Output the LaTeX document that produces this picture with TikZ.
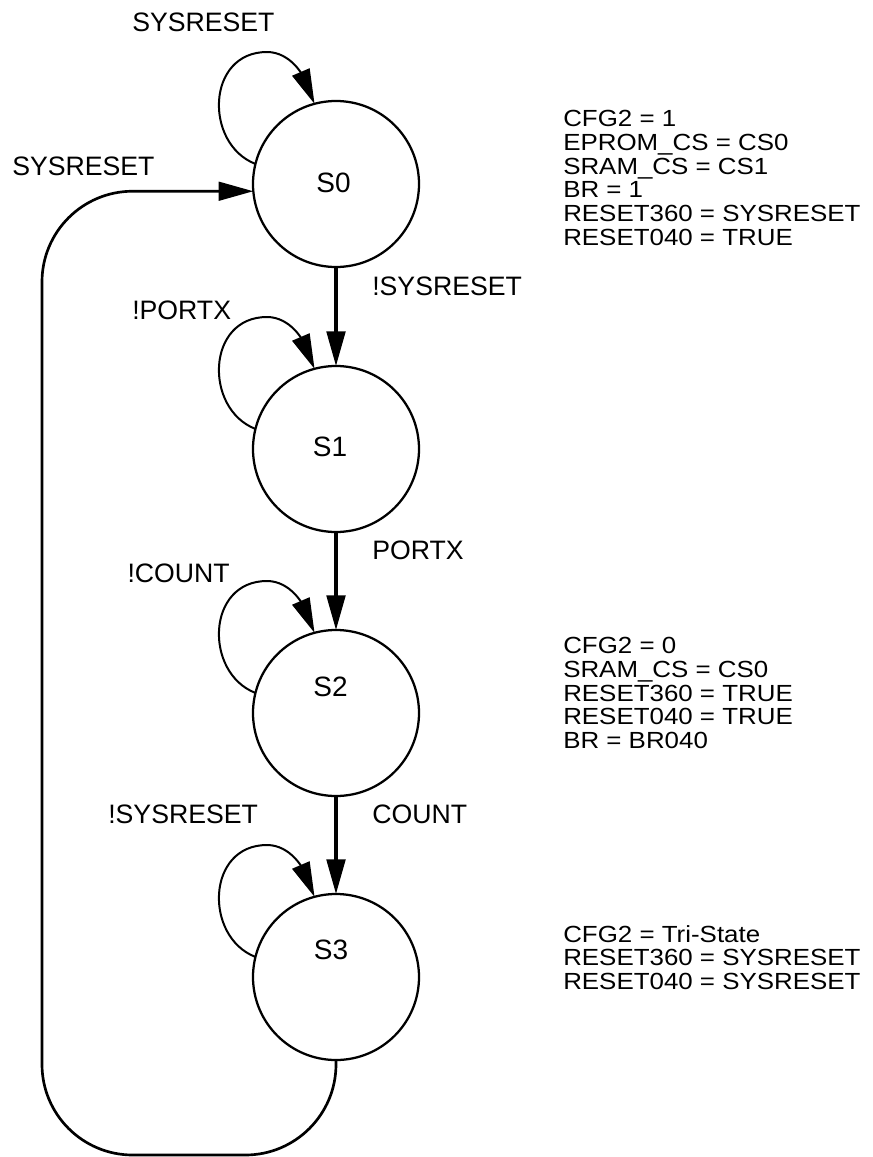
\documentclass[tikz,border=0pt]{standalone}
\usepackage{fontspec}
\setmainfont{Liberation Sans}
\usetikzlibrary{arrows.meta,calc}
\newcommand\selfloop[1]{%
  \draw[loopline] (#1.166) .. controls ($(#1)+(-132,-40)$) and ($(#1)+(-130,-132)$) .. ($(#1)+(-69,-132)$)
    .. controls ($(#1)+(-45,-132)$) and ($(#1)+(-33,-107)$) .. (#1.105);}
\begin{document}
\begin{tikzpicture}[x=0.75pt,y=-0.75pt,
  state/.style={draw, circle, line width=1.7pt, minimum size=124.5pt, inner sep=0pt, outer sep=0pt},
  stname/.style={inner sep=0pt, font=\fontsize{21}{25}\selectfont},
  lbl/.style={inner sep=0pt, font=\fontsize{20}{24}\selectfont},
  outtxt/.style={inner sep=0pt, anchor=north west, font=\fontsize{17.5}{17.75}\selectfont},
  tipped/.style={-{Triangle[length=26pt,width=14pt]}},
  trans/.style={tipped, line width=2.4pt},
  loopline/.style={tipped, line width=1.5pt},
  back/.style={tipped, line width=2pt, rounded corners=68pt}]
\useasboundingbox (0,0) rectangle (872,1157);

% states
\node[state] (S0) at (336,184) {};
\node[state] (S1) at (336,449) {};
\node[state] (S2) at (336,713) {};
\node[state] (S3) at (336,977) {};
\node[stname] (S0t) at (333.5,183) {S0};
\node[stname] (S1t) at (330,447) {S1};
\node[stname] (S2t) at (330.5,687) {S2};
\node[stname] (S3t) at (331,950) {S3};

% transitions
\draw[trans] (S0.south) -- (S1.north);
\draw[trans] (S1.south) -- (S2.north);
\draw[trans] (S2.south) -- (S3.north);

% self loops
\selfloop{S0}
\selfloop{S1}
\selfloop{S2}
\selfloop{S3}

% return path
\coordinate (B) at (42,1155);
\draw[back] (S3.south) -- (S3.south |- B) -- (B) -- (B |- S0.185) -- (S0.185);

% labels
\node[lbl, anchor=west] (l0) at (132,22) {SYSRESET};
\node[lbl, anchor=west] (lback) at (12,166) {SYSRESET};
\node[lbl, anchor=west] (l01) at (372,286) {!SYSRESET};
\node[lbl, anchor=west] (l1) at (132,310) {!PORTX};
\node[lbl, anchor=west] (l12) at (372,550) {PORTX};
\node[lbl, anchor=east] (l2) at (230,573) {!COUNT};
\node[lbl, anchor=west] (l23) at (372,814) {COUNT};
\node[lbl, anchor=west] (l3) at (108,814) {!SYSRESET};

% outputs
\node[outtxt] (o0) at (563,110) {\scalebox{1.11}[1]{\begin{tabular}{@{}l@{}}CFG2 = 1\\EPROM\_CS = CS0\\SRAM\_CS = CS1\\BR = 1\\RESET360 = SYSRESET\\RESET040 = TRUE\end{tabular}}};
\node[outtxt] (o2) at (563,637) {\scalebox{1.11}[1]{\begin{tabular}{@{}l@{}}CFG2 = 0\\SRAM\_CS = CS0\\RESET360 = TRUE\\RESET040 = TRUE\\BR = BR040\end{tabular}}};
\node[outtxt] (o3) at (563,925) {\scalebox{1.11}[1]{\begin{tabular}{@{}l@{}}CFG2 = Tri-State\\RESET360 = SYSRESET\\RESET040 = SYSRESET\end{tabular}}};
\end{tikzpicture}
\end{document}
